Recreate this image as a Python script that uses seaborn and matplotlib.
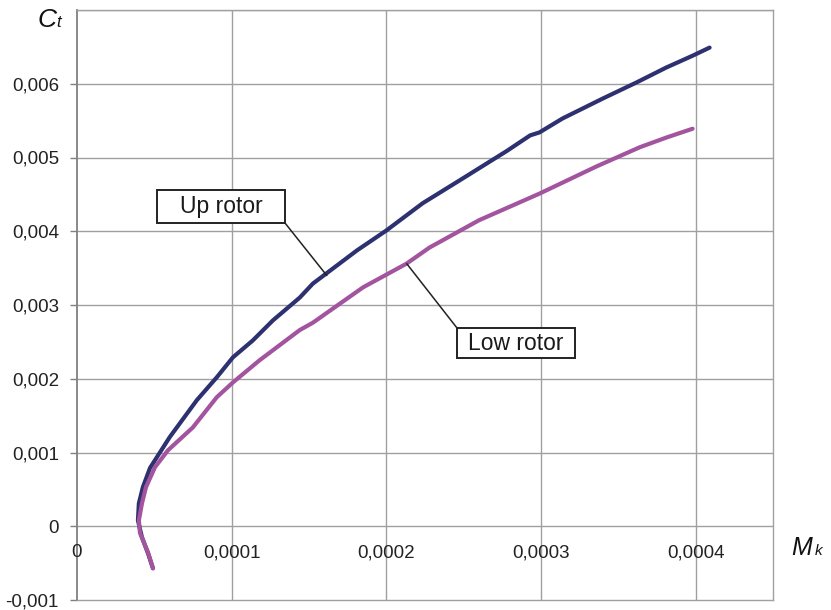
import numpy as np
import pandas as pd
import matplotlib
matplotlib.use("Agg")
import matplotlib.pyplot as plt
import seaborn as sns
from matplotlib.patches import Rectangle

# ---- data ----
up_mk = [4.91e-5, 4.59e-5, 4.20e-5, 3.94e-5, 4.00e-5, 4.26e-5, 4.72e-5, 6.00e-5, 7.75e-5,
         9.04e-5, 1.008e-4, 1.137e-4, 1.266e-4, 1.44e-4, 1.525e-4, 1.81e-4, 2.00e-4,
         2.235e-4, 2.474e-4, 2.78e-4, 2.93e-4, 2.99e-4, 3.14e-4, 3.40e-4, 3.62e-4,
         3.81e-4, 3.98e-4, 4.09e-4]
up_ct = [-0.00057, -0.000366, -0.00015, 0.00008, 0.00031, 0.00053, 0.00079, 0.00121, 0.00171,
         0.00202, 0.00229, 0.00252, 0.00279, 0.00310, 0.00329, 0.00374, 0.00401,
         0.00438, 0.00469, 0.00509, 0.00530, 0.00534, 0.00553, 0.00580, 0.00602,
         0.00622, 0.00638, 0.00649]
low_mk = [4.91e-5, 4.60e-5, 4.07e-5, 4.00e-5, 4.20e-5, 4.46e-5, 5.04e-5, 5.88e-5, 7.49e-5,
          9.04e-5, 1.008e-4, 1.18e-4, 1.44e-4, 1.525e-4, 1.85e-4, 2.13e-4, 2.28e-4,
          2.60e-4, 2.99e-4, 3.36e-4, 3.64e-4, 3.81e-4, 3.98e-4]
low_ct = [-0.00057, -0.00036, -0.00009, 0.00008, 0.00031, 0.00053, 0.00080, 0.00103, 0.00134,
          0.00175, 0.00195, 0.00225, 0.00266, 0.00276, 0.00324, 0.00356, 0.00378,
          0.00415, 0.00451, 0.00488, 0.00514, 0.00527, 0.00539]
series_names = ["Up rotor", "Low rotor"]
x_ticks = [0, 0.0001, 0.0002, 0.0003, 0.0004]
x_tick_labels = ["0", "0,0001", "0,0002", "0,0003", "0,0004"]
y_ticks = [-0.001, 0, 0.001, 0.002, 0.003, 0.004, 0.005, 0.006]
y_tick_labels = ["-0,001", "0", "0,001", "0,002", "0,003", "0,004", "0,005", "0,006"]

df = pd.DataFrame({
    "Mk": up_mk + low_mk,
    "Ct": up_ct + low_ct,
    "rotor": [series_names[0]] * len(up_mk) + [series_names[1]] * len(low_mk),
})

sns.set_style("white")
plt.rcParams["font.family"] = ["Liberation Sans", "DejaVu Sans"]

W, H = 831, 610
fig = plt.figure(figsize=(W / 100, H / 100), dpi=100)
L, R, T, B = 77, 773, 10, 600
ax = fig.add_axes([L / W, 1 - B / H, (R - L) / W, (B - T) / H])

palette = {"Up rotor": "#2D3170", "Low rotor": "#A3549F"}
sns.lineplot(data=df, x="Mk", y="Ct", hue="rotor", sort=False, estimator=None,
             palette=palette, legend=False, linewidth=3.0, ax=ax, zorder=3)

ax.set_xlim(0, 0.00045)
ax.set_ylim(-0.001, 0.007)
grid_c = "#A0A0A0"
for xv in x_ticks[1:]:
    ax.axvline(xv, color=grid_c, lw=1.0, zorder=1)
for yv in y_ticks[1:] + [0.007]:
    ax.axhline(yv, color=grid_c, lw=1.0, zorder=1)

ax.set_xticks([])
ax.set_yticks(y_ticks)
ax.set_yticklabels(y_tick_labels, fontsize=13.5, color="#222222")
ax.tick_params(axis="y", direction="out", length=5, width=1, color="#808080", pad=8, left=True)
ax.set_xlabel("")
ax.set_ylabel("")
for s in ["top", "right", "bottom"]:
    ax.spines[s].set_color(grid_c)
    ax.spines[s].set_linewidth(1.0)
ax.spines["left"].set_color("#808080")
ax.spines["left"].set_linewidth(1.3)

# x tick labels sit just under the zero line, inside the plot
for xv, lab in zip(x_ticks, x_tick_labels):
    ax.text(xv, -0.00036, lab, ha="center", va="center", fontsize=13.5, color="#222222", zorder=4)

# axis titles (italic letter + smaller italic index)
def fy(yp):
    return 1 - yp / H

fig.text(38 / W, fy(27), "C", fontsize=19, style="italic", ha="left", va="baseline", color="#111111")
fig.text(56 / W, fy(27), "t", fontsize=12, style="italic", ha="left", va="baseline", color="#111111")
fig.text(791 / W, fy(555), "M", fontsize=18, style="italic", ha="left", va="baseline", color="#111111")
fig.text(815 / W, fy(555), "k", fontsize=11, style="italic", ha="left", va="baseline", color="#111111")

# callout boxes
def px(xp, yp):
    return xp / W, 1 - yp / H

boxes = [
    ("Up rotor", (157, 190, 285, 223), (285, 223), (1.615e-4, 0.00340)),
    ("Low rotor", (457, 328, 575, 358), (457, 328), (2.132e-4, 0.00356)),
]
for lab, (x0, y0, x1, y1), corner, target in boxes:
    fx0, fy1 = px(x0, y1)
    rect = Rectangle((fx0, fy1), (x1 - x0) / W, (y1 - y0) / H, transform=fig.transFigure,
                     facecolor="white", edgecolor="#222222", lw=1.4, zorder=5)
    fig.patches.append(rect)
    cx, cy = px((x0 + x1) / 2, (y0 + y1) / 2)
    fig.text(cx, cy, lab, fontsize=16.5, ha="center", va="center", color="#1a1a1a", zorder=6)
    ax.annotate("", xy=target, xycoords="data", xytext=px(*corner), textcoords="figure fraction",
                arrowprops=dict(arrowstyle="-", color="#222222", lw=1.1, shrinkA=0, shrinkB=0),
                zorder=4)

fig.savefig("out.png", dpi=100, facecolor="white")
